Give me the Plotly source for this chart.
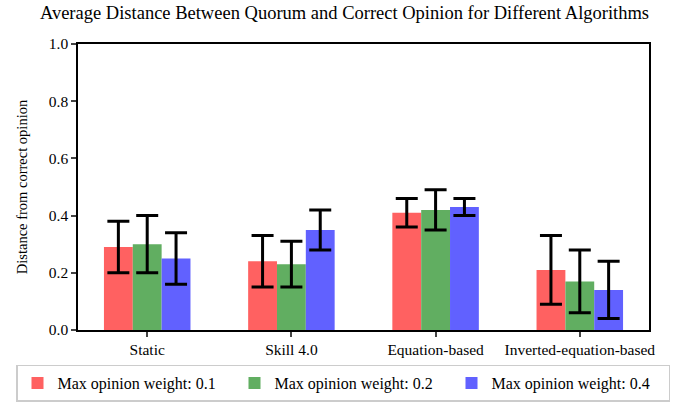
import plotly.graph_objects as go

algorithms = ["Static", "Skill 4.0", "Equation-based", "Inverted-equation-based"]
weights = ["0.1", "0.2", "0.4"]

mean_w01 = [0.29, 0.24, 0.41, 0.21]
mean_w02 = [0.30, 0.23, 0.42, 0.17]
mean_w04 = [0.25, 0.35, 0.43, 0.14]

err_w01 = [0.09, 0.09, 0.05, 0.12]
err_w02 = [0.10, 0.08, 0.07, 0.11]
err_w04 = [0.09, 0.07, 0.03, 0.10]

colors = ["#ff6161", "#61ae61", "#6161ff"]
font = "Liberation Serif, Times New Roman, serif"

fig = go.Figure()
for w, means, errs, c in zip(weights, [mean_w01, mean_w02, mean_w04],
                             [err_w01, err_w02, err_w04], colors):
    fig.add_trace(go.Bar(
        x=list(range(len(algorithms))),
        y=means,
        name=f"Max opinion weight: {w}",
        marker=dict(color=c, line=dict(width=0)),
        error_y=dict(type="data", array=errs, color="black",
                     thickness=3, width=11),
    ))

# plot area: left 78, right 649, top 44, bottom 330 (px)
fig.update_layout(
    barmode="group",
    bargap=0.4,
    bargroupgap=0,
    template="none",
    autosize=False,
    width=689,
    height=404,
    margin=dict(l=78, r=40, t=44, b=74, pad=0, autoexpand=False),
    font=dict(family=font, size=15.5, color="black"),
    title=dict(
        text="Average Distance Between Quorum and Correct Opinion for Different Algorithms",
        x=0.5, xref="container", xanchor="center",
        y=1 - 13 / 404, yref="container", yanchor="middle",
        font=dict(family=font, size=18.5, color="black"),
    ),
    legend=dict(
        orientation="h",
        x=(16 - 78) / 571, xref="paper", xanchor="left",
        y=(330 - 383) / 286, yref="paper", yanchor="middle",
        entrywidth=172,
        bordercolor="#cccccc",
        borderwidth=1.5,
        font=dict(family=font, size=16),
        itemwidth=30,
    ),
    plot_bgcolor="white",
    paper_bgcolor="white",
)

fig.update_xaxes(
    tickvals=list(range(len(algorithms))),
    ticktext=algorithms,
    range=[-0.48, 3.48],
    showline=True,
    linewidth=1.5,
    linecolor="black",
    mirror=True,
    ticks="outside",
    ticklen=5,
    tickwidth=1.5,
    showgrid=False,
    zeroline=False,
)

fig.update_yaxes(
    range=[0, 1.0],
    tickvals=[0, 0.2, 0.4, 0.6, 0.8, 1.0],
    tickformat=".1f",
    title=dict(text="Distance from correct opinion", standoff=18,
               font=dict(family=font, size=14.5)),
    showline=True,
    linewidth=1.5,
    linecolor="black",
    mirror=True,
    ticks="outside",
    ticklen=5,
    tickwidth=1.5,
    showgrid=False,
    zeroline=False,
)

fig.write_html(
    "out.html",
    config={"displayModeBar": False},
    post_script="document.body.style.margin='0px';",
)
